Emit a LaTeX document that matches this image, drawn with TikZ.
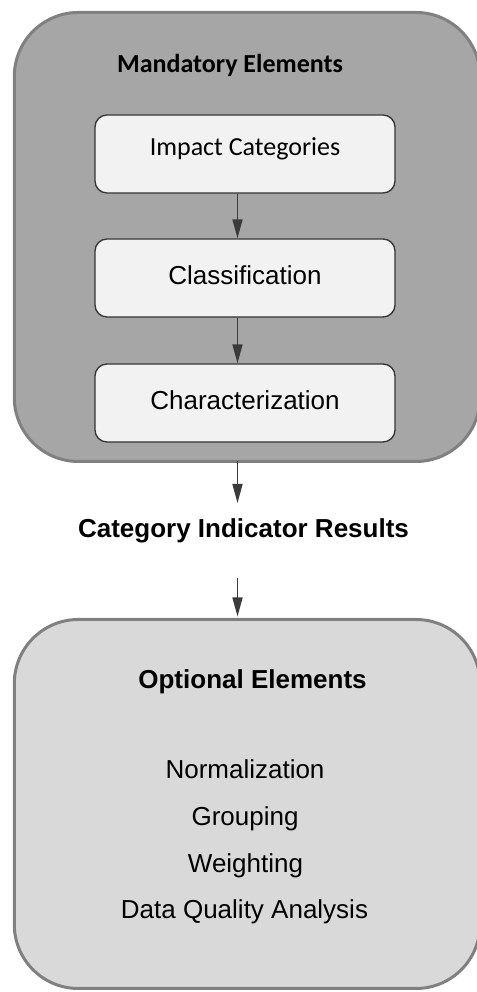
\documentclass[tikz,border=0pt]{standalone}
\usepackage{fontspec}
\setmainfont{Liberation Sans}
\newfontfamily\calibri{Carlito}
\usetikzlibrary{arrows.meta}
\definecolor{mandfill}{HTML}{A6A6A6}
\definecolor{optfill}{HTML}{D9D9D9}
\definecolor{outerline}{HTML}{808080}
\definecolor{innerfill}{HTML}{F2F2F2}
\definecolor{innerline}{HTML}{333333}
\definecolor{arrowcol}{HTML}{3A3A3A}
\tikzset{
  bigbox/.style={draw=outerline, line width=3pt, rounded corners=64pt,
    minimum width=465.7pt, inner sep=0pt},
  stagebox/.style={draw=innerline, fill=innerfill, line width=1.3pt,
    rounded corners=12pt, minimum width=300pt, minimum height=78pt,
    inner sep=0pt, font=\fontsize{26}{30}\selectfont},
  lbl/.style={anchor=base, inner sep=0pt, font=\fontsize{26}{30}\selectfont},
  arr/.style={draw=arrowcol, line width=1.6pt,
    -{Triangle[length=19pt,width=10pt]}, arrowcol},
}
\begin{document}
\begin{tikzpicture}[x=1pt,y=1pt]
\useasboundingbox (0,0) rectangle (476,992);
% outer boxes
\node[bigbox, fill=mandfill, minimum height=449pt] (mand) at (247.15,755) {};
\node[bigbox, fill=optfill, minimum height=369pt] (opt) at (247.15,188) {};
% mandatory title
\node[lbl, font=\fontsize{26}{30}\selectfont\calibri\bfseries] (mtitle) at (230,919) {Mandatory Elements};
% stage boxes
\node[stagebox, font=\fontsize{26}{30}\selectfont\calibri, text height=10pt, text depth=6pt] (imp) at (245,838) {Impact Categories};
\node[stagebox, text height=14pt, text depth=0pt] (cls) at (245,714) {Classification};
\node[stagebox, text height=14pt, text depth=0pt] (chr) at (245,589) {Characterization};
% category indicator results
\node[lbl, font=\fontsize{26}{30}\selectfont\bfseries] (cat) at (243.5,454) {Category Indicator Results};
\coordinate (axis) at (237.5,0);
\coordinate (cattop) at (237.5,489);
\coordinate (catbot) at (237.5,414);
% optional contents
\node[lbl, font=\fontsize{26}{30}\selectfont\bfseries] (otitle) at (252.5,303) {Optional Elements};
\node[lbl] (norm) at (245,213) {Normalization};
\node[lbl] (grp) at (245,166) {Grouping};
\node[lbl] (wgt) at (245.5,119) {Weighting};
\node[lbl] (dqa) at (244.5,73) {Data Quality Analysis};
% connectors
\draw[arr] (imp.south -| axis) -- (cls.north -| axis);
\draw[arr] (cls.south -| axis) -- (chr.north -| axis);
\draw[arr] ([yshift=1.5pt]mand.south -| axis) -- (cattop);
\draw[arr] (catbot) -- ([yshift=1.5pt]opt.north -| axis);
\end{tikzpicture}
\end{document}
